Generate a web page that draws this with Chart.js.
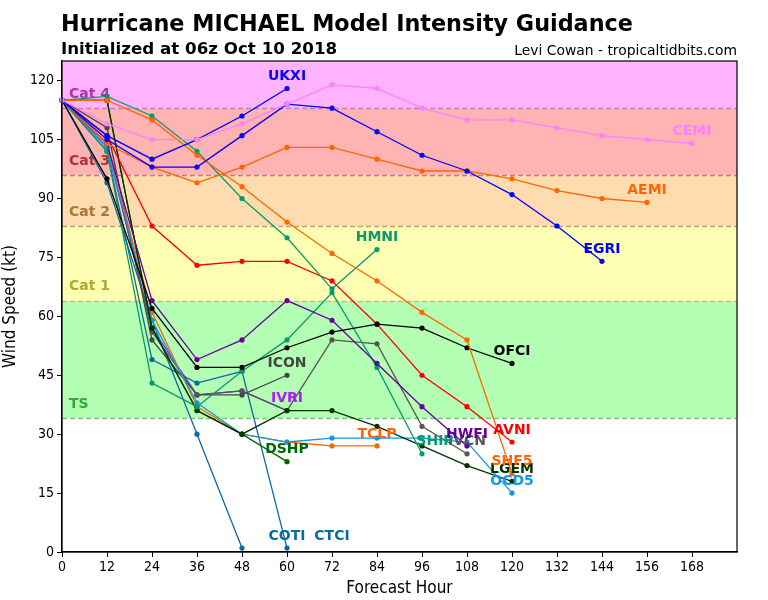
<!DOCTYPE html>
<html>
<head>
<meta charset="utf-8">
<script src="https://cdn.jsdelivr.net/npm/chart.js@4.4.0/dist/chart.umd.min.js"></script>
<style>
  html, body { margin: 0; padding: 0; background: #fff; }
  #wrap { width: 768px; height: 600px; }
</style>
</head>
<body>
<div id="wrap"><canvas id="chart" width="768" height="600"></canvas></div>
<script>
// forecast hours, every 12 h
const hours = [0, 12, 24, 36, 48, 60, 72, 84, 96, 108, 120, 132, 144, 156, 168];

// model intensities (kt), starting at hour 0
const ukxi = [115, 106, 100, 105, 111, 118];
const egri = [115, 105, 98, 98, 106, 114, 113, 107, 101, 97, 91, 83, 74];
const cemi = [115, 109, 105, 105, 109, 114, 119, 118, 113, 110, 110, 108, 106, 105, 104];
const aemi = [115, 104, 98, 94, 98, 103, 103, 100, 97, 97, 95, 92, 90, 89];
const shf5 = [115, 115, 110, 101, 93, 84, 76, 69, 61, 54, 20];
const hmni = [115, 116, 111, 102, 90, 80, 67, 77];
const ship = [115, 102, 43, 37, 46, 54, 66, 47, 25];
const ofci = [115, 95, 62, 47, 47, 52, 56, 58, 57, 52, 48];
const icon = [115, 108, 54, 40, 40, 45];
const ivcn = [115, 104, 56, 40, 41, 36, 54, 53, 32, 25];
const ivri = [115, 103, 57, 40, 41, 36];
const hwfi = [115, 104, 64, 49, 54, 64, 59, 48, 37, 27];
const avni = [115, 106, 83, 73, 74, 74, 69, 58, 45, 37, 28];
const tclp = [115, 103, 61, 37, 30, 28, 27, 27];
const dshp = [115, 115, 57, 36, 30, 23];
const lgem = [115, 115, 57, 36, 30, 36, 36, 32, 27, 22, 18];
const ocd5 = [115, 103, 59, 38, 30, 28, 29, 29, 29, 28, 15];
const coti = [115, 94, 59, 30, 1];
const ctci = [115, 102, 49, 43, 46, 1];

// intensity categories (lower bounds, kt)
const catNames = ["TS", "Cat 1", "Cat 2", "Cat 3", "Cat 4"];
const catLower = [34, 64, 83, 96, 113];
const catUpper = [64, 83, 96, 113, 137];

const xTicks = [0, 12, 24, 36, 48, 60, 72, 84, 96, 108, 120, 132, 144, 156, 168];
const yTicks = [0, 15, 30, 45, 60, 75, 90, 105, 120];

const catFill = ["#b3ffb3", "#ffffb3", "#ffdcaf", "#ffb3b3", "#ffb3ff"];
const catLine = ["#7fbf7f", "#bfbf7f", "#bf9f7f", "#bf7f7f", "#bf7fbf"];
const catText = ["#33aa33", "#aaaa33", "#aa7733", "#aa3333", "#aa33aa"];

// listed bottom to top
const models = [
  { name: "IVRI", vals: ivri, color: "#b31aff" },
  { name: "COTI", vals: coti, color: "#0b6aa2", dx: 45 },
  { name: "CTCI", vals: ctci, color: "#0b6aa2", dx: 45 },
  { name: "ICON", vals: icon, color: "#444444" },
  { name: "IVCN", vals: ivcn, color: "#555555" },
  { name: "TCLP", vals: tclp, color: "#ff6600" },
  { name: "OCD5", vals: ocd5, color: "#1199dd" },
  { name: "DSHP", vals: dshp, color: "#006600" },
  { name: "LGEM", vals: lgem, color: "#003300" },
  { name: "SHIP", vals: ship, color: "#0a9a6a", dx: 13 },
  { name: "HWFI", vals: hwfi, color: "#660099" },
  { name: "AVNI", vals: avni, color: "#ff0000" },
  { name: "OFCI", vals: ofci, color: "#000000" },
  { name: "HMNI", vals: hmni, color: "#0a9a6a" },
  { name: "SHF5", vals: shf5, color: "#ff6600" },
  { name: "AEMI", vals: aemi, color: "#ff6600" },
  { name: "EGRI", vals: egri, color: "#0000ff" },
  { name: "UKXI", vals: ukxi, color: "#0000ff" },
  { name: "CEMI", vals: cemi, color: "#ff80ff" }
];

const datasets = models.map((m, i) => ({
  label: m.name,
  data: m.vals.map((v, k) => ({ x: hours[k], y: v })),
  order: models.length - i,
  borderColor: m.color,
  backgroundColor: m.color,
  pointBackgroundColor: m.color,
  pointBorderWidth: 0,
  pointRadius: 2.6,
  borderWidth: 1.3,
  tension: 0,
  clip: false
}));

const cond = "'DejaVu Sans Condensed', 'DejaVu Sans', sans-serif";

const decor = {
  id: "decor",
  beforeDatasetsDraw(chart) {
    const { ctx, chartArea: a, scales: { y } } = chart;
    ctx.save();
    ctx.beginPath();
    ctx.rect(a.left, a.top, a.right - a.left, a.bottom - a.top);
    ctx.clip();
    catLower.forEach((lo, i) => {
      const yTop = y.getPixelForValue(catUpper[i]);
      const yBot = y.getPixelForValue(lo);
      ctx.fillStyle = catFill[i];
      ctx.fillRect(a.left, yTop, a.right - a.left, yBot - yTop);
    });
    catLower.forEach((lo, i) => {
      const yp = Math.round(y.getPixelForValue(lo)) + 0.5;
      ctx.strokeStyle = catLine[i];
      ctx.lineWidth = 1.3;
      ctx.setLineDash([5, 3]);
      ctx.beginPath();
      ctx.moveTo(a.left, yp);
      ctx.lineTo(a.right, yp);
      ctx.stroke();
    });
    ctx.setLineDash([]);
    ctx.font = "bold 14px 'DejaVu Sans', sans-serif";
    ctx.textBaseline = "middle";
    ctx.textAlign = "left";
    catLower.forEach((lo, i) => {
      ctx.fillStyle = catText[i];
      ctx.fillText(catNames[i], a.left + 7, y.getPixelForValue(lo) - 14);
    });
    ctx.restore();
  },
  afterDatasetsDraw(chart) {
    const { ctx, chartArea: a, scales: { x, y } } = chart;
    ctx.save();
    ctx.font = "bold 14px 'DejaVu Sans', sans-serif";
    ctx.textAlign = "center";
    ctx.textBaseline = "middle";
    models.forEach(m => {
      const n = m.vals.length - 1;
      const px = x.getPixelForValue(hours[n]) + (m.dx || 0);
      const py = y.getPixelForValue(m.vals[n]) - 12;
      ctx.fillStyle = m.color;
      ctx.fillText(m.name, px, py);
    });
    // frame
    ctx.strokeStyle = "#000";
    ctx.lineWidth = 1.2;
    ctx.strokeRect(a.left, a.top, a.right - a.left, a.bottom - a.top);
    ctx.restore();
  },
  afterDraw(chart) {
    const { ctx, chartArea: a } = chart;
    ctx.save();
    ctx.fillStyle = "#000";
    ctx.textBaseline = "alphabetic";
    ctx.textAlign = "left";
    ctx.font = "bold 22.3px 'DejaVu Sans', sans-serif";
    ctx.fillText("Hurricane MICHAEL Model Intensity Guidance", 61, 31);
    ctx.font = "bold 16.7px 'DejaVu Sans', sans-serif";
    ctx.fillText("Initialized at 06z Oct 10 2018", 61, 54);
    ctx.textAlign = "right";
    ctx.font = "13.9px 'DejaVu Sans', sans-serif";
    ctx.fillText("Levi Cowan - tropicaltidbits.com", a.right, 55);
    ctx.textAlign = "center";
    ctx.textBaseline = "middle";
    ctx.font = "17px " + cond;
    ctx.fillText("Forecast Hour", (a.left + a.right) / 2, 589);
    ctx.translate(11, (a.top + a.bottom) / 2);
    ctx.rotate(-Math.PI / 2);
    ctx.fillText("Wind Speed (kt)", 0, 0);
    ctx.restore();
  }
};

new Chart(document.getElementById("chart"), {
  type: "line",
  data: { datasets: datasets },
  options: {
    responsive: false,
    animation: false,
    events: [],
    layout: { padding: { top: 61, right: 31, left: 0, bottom: 0 } },
    plugins: { legend: { display: false }, tooltip: { enabled: false } },
    scales: {
      x: {
        type: "linear",
        min: 0,
        max: 180,
        afterBuildTicks: s => { s.ticks = xTicks.map(v => ({ value: v })); },
        afterFit: s => { s.height = 48; },
        grid: { drawOnChartArea: false, drawTicks: true, tickLength: 5, color: "#000" },
        border: { display: true, color: "#000", width: 1.2 },
        ticks: { color: "#000", font: { family: cond, size: 14 }, padding: 2, maxRotation: 0, autoSkip: false }
      },
      y: {
        min: 0,
        max: 125,
        afterBuildTicks: s => { s.ticks = yTicks.map(v => ({ value: v })); },
        afterFit: s => { s.width = 62; },
        grid: { drawOnChartArea: false, drawTicks: true, tickLength: 5, color: "#000" },
        border: { display: true, color: "#000", width: 1.2 },
        ticks: { color: "#000", font: { family: cond, size: 14 }, padding: 3 }
      }
    }
  },
  plugins: [decor]
});
</script>
</body>
</html>
